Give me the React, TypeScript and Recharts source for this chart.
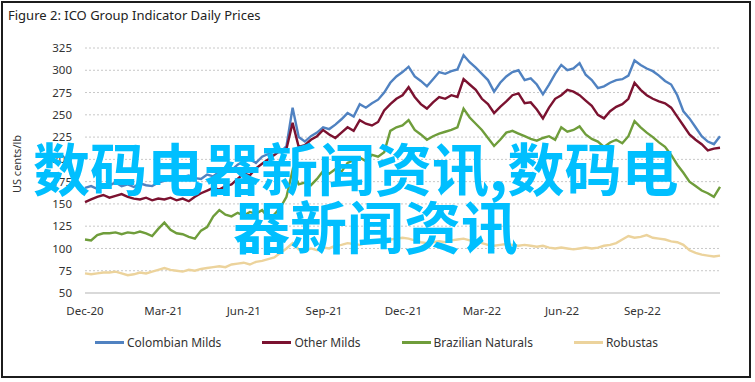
import React from 'react';
import { LineChart, Line, XAxis, YAxis, CartesianGrid } from 'recharts';

// Weekly readings, Dec 2020 – Nov 2022 (US cents/lb)
const colombianMilds = [
  168, 170, 167, 172, 171, 174, 170, 172, 169, 173, 171, 170, 174,
  176, 178, 175, 180, 182, 179, 178, 183, 181, 186, 190, 188, 194,
  198, 200, 196, 203, 206, 210, 208, 215, 258, 225, 220, 226, 230,
  236, 234, 239, 245, 252, 248, 262, 258, 263, 267, 275, 286, 293,
  298, 304, 293, 288, 282, 290, 298, 296, 299, 301, 317, 309, 303,
  296, 289, 276, 286, 293, 298, 300, 289, 291, 284, 273, 284, 296,
  306, 300, 302, 308, 295, 289, 280, 282, 286, 289, 290, 294, 311,
  306, 302, 299, 294, 288, 284, 272, 254, 246, 236, 226, 220, 217, 226,
];
const otherMilds = [
  152, 155, 158, 160, 157, 159, 161, 158, 156, 155, 157, 154, 156,
  155, 157, 154, 156, 153, 158, 162, 165, 168, 166, 170, 172, 178,
  184, 182, 190, 195, 200, 205, 210, 212, 241, 214, 216, 222, 226,
  233, 228, 224, 230, 236, 232, 244, 240, 238, 242, 255, 262, 268,
  272, 281, 270, 262, 257, 264, 270, 268, 272, 270, 290, 284, 278,
  268, 262, 252, 259, 265, 272, 274, 263, 264, 256, 246, 258, 268,
  272, 278, 276, 272, 266, 260, 250, 246, 254, 259, 262, 268, 286,
  278, 272, 268, 265, 263, 258, 248, 238, 228, 222, 217, 210, 212, 213,
];
const brazilianNaturals = [
  110, 109, 115, 117, 117, 118, 116, 118, 117, 119, 117, 114, 122,
  129, 121, 117, 116, 113, 111, 120, 124, 136, 143, 138, 136, 140,
  137, 141, 139, 143, 135, 138, 146, 158, 188, 172, 174, 171, 178,
  187, 184, 189, 186, 196, 199, 202, 198, 205, 203, 208, 232, 236,
  238, 244, 233, 228, 222, 226, 229, 231, 233, 236, 257, 247, 240,
  233, 224, 215, 222, 230, 232, 229, 226, 223, 221, 224, 226, 222,
  236, 231, 233, 237, 228, 223, 220, 214, 219, 222, 218, 226, 243,
  236, 230, 225, 219, 214, 205, 194, 185, 175, 170, 165, 162, 158, 169,
];
const robustas = [
  72, 71, 72, 73, 73, 74, 72, 70, 71, 73, 72, 74, 76,
  78, 76, 75, 74, 76, 75, 77, 78, 79, 80, 79, 82, 83,
  84, 82, 85, 86, 88, 90, 95, 100, 106, 99, 97, 100, 98,
  101, 100, 103, 104, 106, 105, 104, 106, 108, 107, 109, 110, 111,
  112, 111, 109, 107, 106, 107, 108, 107, 109, 110, 111, 109, 108,
  106, 104, 103, 104, 105, 104, 103, 104, 103, 102, 103, 101, 100,
  101, 100, 99, 100, 101, 100, 101, 103, 104, 106, 110, 114, 112,
  113, 115, 112, 111, 110, 108, 107, 104, 98, 95, 93, 92, 91, 92,
];

// x ticks: week offsets of quarter starts, with labels
const tickWeeks = [0, 12.86, 26, 39.14, 52.14, 65, 78.14, 91.29];
const tickLabels = ['Dec-20', 'Mar-21', 'Jun-21', 'Sep-21', 'Dec-21', 'Mar-22', 'Jun-22', 'Sep-22'];
const yTicks = [50, 75, 100, 125, 150, 175, 200, 225, 250, 275, 300, 325];

const seriesNames = ['Colombian Milds', 'Other Milds', 'Brazilian Naturals', 'Robustas'];
const seriesColors = ['#5082c1', '#7b1230', '#6f9d3b', '#ecd39c'];
const seriesKeys = ['cm', 'om', 'bn', 'rb'];

const data = colombianMilds.map((v, i) => ({
  w: i,
  cm: v,
  om: otherMilds[i],
  bn: brazilianNaturals[i],
  rb: robustas[i],
}));

const FONT = '"Noto Sans", sans-serif';
const CJK = '"Noto Sans CJK SC", sans-serif';

export default function App() {
  return (
    <div style={{ position: 'absolute', left: 0, top: 0, width: 755, height: 382, background: '#fff', fontFamily: FONT }}>
      <div style={{ position: 'absolute', left: 1, top: 1, width: 750, height: 377, border: '2px solid #1c1c1c', boxSizing: 'border-box' }} />
      <div style={{ position: 'absolute', left: 0, top: 0 }}>
        <LineChart width={755} height={382} data={data} margin={{ top: 48, right: 35, bottom: 59, left: 25 }}>
          <CartesianGrid horizontal vertical={false} stroke="#c8c8c8" strokeDasharray="2 2" />
          <XAxis
            dataKey="w"
            type="number"
            domain={[0, 104]}
            ticks={tickWeeks}
            tickFormatter={(v: number) => tickLabels[tickWeeks.indexOf(v)]}
            axisLine={{ stroke: '#d9d9d9', strokeWidth: 2 }}
            tickLine={false}
            tickMargin={8}
            height={30}
            tick={{ fill: '#333', fontSize: 11.5, fontFamily: FONT }}
            interval={0}
          />
          <YAxis
            domain={[50, 325]}
            ticks={yTicks}
            axisLine={false}
            tickLine={false}
            tickMargin={7}
            width={60}
            tick={{ fill: '#333', fontSize: 11.5, fontFamily: FONT }}
            interval={0}
          />
          {seriesKeys.map((k, i) => (
            <Line
              key={k}
              dataKey={k}
              name={seriesNames[i]}
              stroke={seriesColors[i]}
              strokeWidth={2.4}
              dot={false}
              type="linear"
              isAnimationActive={false}
            />
          ))}
        </LineChart>
      </div>
      <svg width={755} height={382} style={{ position: 'absolute', left: 0, top: 0, pointerEvents: 'none' }}>
        <text x={8} y={20} fontSize={13} fill="#222" fontFamily={FONT}>Figure 2: ICO Group Indicator Daily Prices</text>
        <text x={0} y={0} fontSize={11} fill="#333" fontFamily={FONT} textAnchor="middle" transform="translate(21,164) rotate(-90)">US cents/lb</text>
      </svg>
      <div style={{ position: 'absolute', left: 95, top: 334, display: 'flex', alignItems: 'center', gap: 41, fontSize: 12, color: '#333', whiteSpace: 'nowrap' }}>
        {seriesNames.map((n, i) => (
          <div key={n} style={{ display: 'flex', alignItems: 'center' }}>
            <div style={{ width: 29, height: 3, background: seriesColors[i], marginRight: 3 }} />
            <span>{n}</span>
          </div>
        ))}
      </div>
      <svg width={755} height={382} style={{ position: 'absolute', left: 0, top: 0, pointerEvents: 'none' }}>
        <text x={33} y={191} fontSize={57} fontWeight={700} fill="#00bfff" fontFamily={CJK}>数码电器新闻资讯,数码电</text>
        <text x={233} y={249} fontSize={57} fontWeight={700} fill="#00bfff" fontFamily={CJK}>器新闻资讯</text>
      </svg>
    </div>
  );
}
